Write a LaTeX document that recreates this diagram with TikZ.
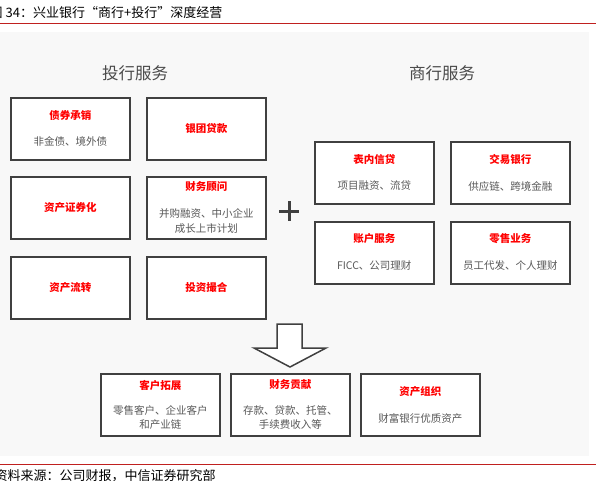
\documentclass[tikz,border=0pt]{standalone}
\usepackage{fontspec}
\newfontfamily\cjk{Noto Sans CJK SC}
\usetikzlibrary{calc}
\definecolor{bgc}{HTML}{F8F8F8}
\definecolor{rulec}{HTML}{C0201F}
\definecolor{framec}{HTML}{404040}
\definecolor{subc}{HTML}{595959}
\definecolor{ttlc}{HTML}{FF0000}
\definecolor{headc}{HTML}{4A4A4A}
\begin{document}
\begin{tikzpicture}[x=1pt,y=-1pt,
  card/.style={draw=framec, line width=1.5pt, fill=white, minimum width=119pt, minimum height=62pt, anchor=north west, inner sep=0pt},
  ttl/.style={text=ttlc, font=\cjk\bfseries\fontsize{10.5}{12}\selectfont, inner sep=0pt},
  subt/.style={text=subc, font=\cjk\fontsize{10.5}{14.5}\selectfont, align=center, inner sep=0pt},
  head/.style={text=headc, font=\cjk\fontsize{16.5}{18}\selectfont, inner sep=0pt},
  captxt/.style={text=black, font=\cjk\fontsize{13}{14}\selectfont, inner sep=0pt, anchor=west}]
\useasboundingbox (0,0) rectangle (596,480);
\fill[bgc] (0,32) rectangle (589,456);
\draw[rulec, line width=1pt] (0,23) -- (596,23);
\draw[rulec, line width=1pt] (0,464) -- (596,464);
\node[captxt] (caption) at (-10.5,13) {图 34：兴业银行“商行+投行”深度经营};
\node[captxt] (source) at (-5.5,476) {资料来源：公司财报，中信证券研究部};

% headers
\node[head] (hL) at (135,73) {投行服务};
\node[head] (hR) at (442,73) {商行服务};

% left column
\node[card] (L1) at (10,97) {};
\node[card] (L2) at (146,97) {};
\node[card] (L3) at (10,176) {};
\node[card] (L4) at (146,176) {};
\node[card] (L5) at (10,256) {};
\node[card] (L6) at (146,256) {};
\node[ttl] (L1t) at ($(L1.north)+(0,18)$) {债券承销};
\node[subt] (L1s) at ($(L1.north)+(0,44)$) {非金债、境外债};
\node[ttl] (L2t) at (L2.center) {银团贷款};
\node[ttl] (L3t) at (L3.center) {资产证券化};
\node[ttl] (L4t) at ($(L4.north)+(0,11)$) {财务顾问};
\node[subt] (L4s) at ($(L4.north)+(0,45)$) {并购融资、中小企业\\成长上市计划};
\node[ttl] (L5t) at (L5.center) {资产流转};
\node[ttl] (L6t) at (L6.center) {投资撮合};

% plus
\coordinate (plus) at (289,211);
\draw[framec, line width=3pt] ($(plus)+(-10,0)$) -- ($(plus)+(10,0)$);
\draw[framec, line width=3pt] ($(plus)+(0,-10)$) -- ($(plus)+(0,10)$);

% right column
\node[card] (R1) at (314,141) {};
\node[card] (R2) at (450,141) {};
\node[card] (R3) at (314,221) {};
\node[card] (R4) at (450,221) {};
\node[ttl] (R1t) at ($(R1.north)+(0,18)$) {表内信贷};
\node[subt] (R1s) at ($(R1.north)+(0,45)$) {项目融资、流贷};
\node[ttl] (R2t) at ($(R2.north)+(0,18)$) {交易银行};
\node[subt] (R2s) at ($(R2.north)+(0,45)$) {供应链、跨境金融};
\node[ttl] (R3t) at ($(R3.north)+(0,18)$) {账户服务};
\node[subt] (R3s) at ($(R3.north)+(0,45)$) {FICC、公司理财};
\node[ttl] (R4t) at ($(R4.north)+(0,18)$) {零售业务};
\node[subt] (R4s) at ($(R4.north)+(0,45)$) {员工代发、个人理财};

% down arrow
\draw[framec, line width=1.5pt, fill=white, line join=miter]
  (277,324) -- (302,324) -- (302,348) -- (326,348) -- (290,367) -- (254,348) -- (277,348) -- cycle;

% bottom row
\node[card] (B1) at (100,373) {};
\node[card] (B2) at (230,373) {};
\node[card] (B3) at (360,373) {};
\node[ttl] (B1t) at ($(B1.north)+(0,12)$) {客户拓展};
\node[subt] (B1s) at ($(B1.north)+(0,44.5)$) {零售客户、企业客户\\和产业链};
\node[ttl] (B2t) at ($(B2.north)+(0,12)$) {财务贡献};
\node[subt] (B2s) at ($(B2.north)+(0,44.5)$) {存款、贷款、托管、\\手续费收入等};
\node[ttl] (B3t) at ($(B3.north)+(0,19)$) {资产组织};
\node[subt] (B3s) at ($(B3.north)+(0,45)$) {财富银行优质资产};
\end{tikzpicture}
\end{document}
